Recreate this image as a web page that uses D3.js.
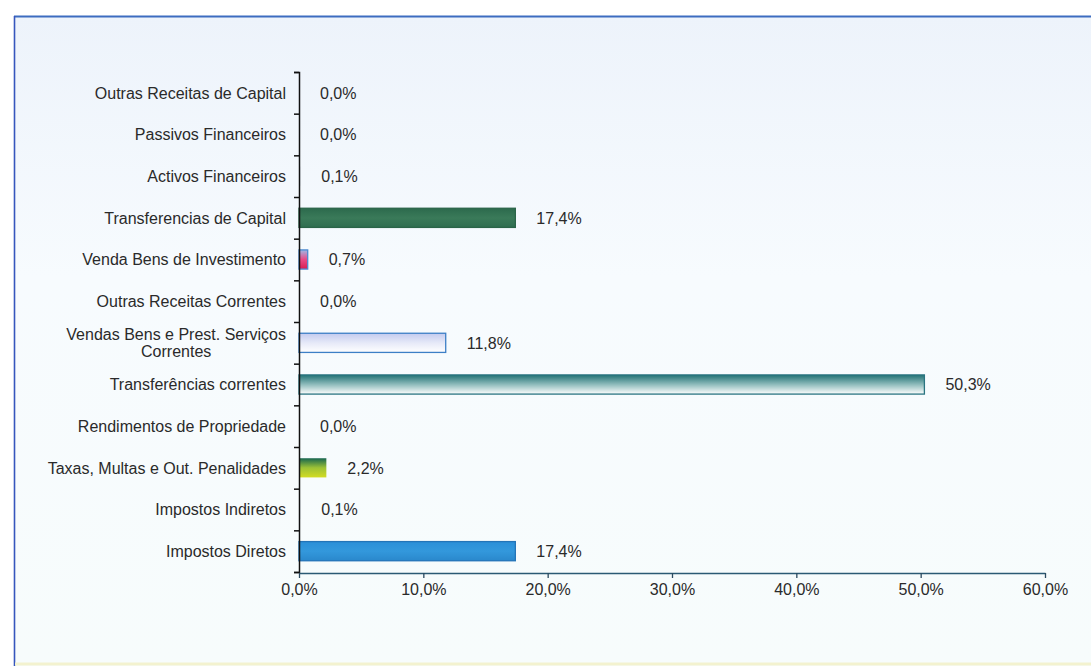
<!DOCTYPE html>
<html lang="pt">
<head>
<meta charset="utf-8">
<title>Estrutura da Receita</title>
<script src="https://cdn.jsdelivr.net/npm/d3@7/dist/d3.min.js"></script>
<style>
  html, body { margin: 0; padding: 0; background: #ffffff; }
  svg { display: block; }
  text { font-family: "Liberation Sans", Arial, sans-serif; fill: #2a2a2a; }
</style>
</head>
<body>
<svg id="chart" width="1091" height="666"></svg>
<script>
// Categorias de receita, de cima para baixo
const categories = [
  "Outras Receitas de Capital",
  "Passivos Financeiros",
  "Activos Financeiros",
  "Transferencias de Capital",
  "Venda Bens de Investimento",
  "Outras Receitas Correntes",
  "Vendas Bens e Prest. Serviços Correntes",
  "Transferências correntes",
  "Rendimentos de Propriedade",
  "Taxas, Multas e Out. Penalidades",
  "Impostos Indiretos",
  "Impostos Diretos"
];

// Peso de cada receita no total (%)
const values = [0.0, 0.0, 0.1, 17.4, 0.7, 0.0, 11.8, 50.3, 0.0, 2.2, 0.1, 17.4];

// Marcas do eixo horizontal (%)
const xTicks = [0, 10, 20, 30, 40, 50, 60];

// Estilo de cada barra: gradiente vertical (topo -> base) e contorno
const barStyles = [
  { stops: ["#5b7fb8", "#5b7fb8"], stroke: "none" },
  { stops: ["#5b7fb8", "#5b7fb8"], stroke: "none" },
  { stops: ["#cfd6e6", "#cfd6e6"], stroke: "none" },
  { stops: ["#2c6a4d", "#3a7a59", "#2f6e50"], stroke: "#2a6448" },
  { stops: ["#9fb8e6", "#e84a86", "#d81e52"], stroke: "#4d8ad0" },
  { stops: ["#111111", "#111111"], stroke: "none" },
  { stops: ["#c3cbef", "#e6e9f8", "#ffffff"], stroke: "#3c7fc6" },
  { stops: ["#227275", "#8fbcbc", "#ffffff"], stroke: "#2a7480" },
  { stops: ["#5b7fb8", "#5b7fb8"], stroke: "none" },
  { stops: ["#17664f", "#9dc236", "#d3dc22"], stroke: "none" },
  { stops: ["#cfd6e6", "#cfd6e6"], stroke: "none" },
  { stops: ["#2a8fd8", "#3398dc", "#2a88cc"], stroke: "#2374b8" }
];

const fmt = v => v.toFixed(1).replace(".", ",") + "%";

const svg = d3.select("#chart");
const W = 1091, H = 666;

// Área do gráfico
const plot = { left: 299, right: 1045, top: 72, bottom: 572 };

const defs = svg.append("defs");

// Fundo do quadro: azul muito claro a esbater para branco
const bg = defs.append("linearGradient")
  .attr("id", "bgGrad").attr("x1", 0).attr("y1", 0).attr("x2", 0).attr("y2", 1);
bg.append("stop").attr("offset", 0).attr("stop-color", "#edf3fb");
bg.append("stop").attr("offset", 0.4).attr("stop-color", "#f7fbfe");
bg.append("stop").attr("offset", 1).attr("stop-color", "#f7fcfc");

svg.append("rect")
  .attr("x", 14).attr("y", 16).attr("width", W - 14).attr("height", H - 16)
  .attr("fill", "url(#bgGrad)");

// Contorno do quadro (topo e lado esquerdo)
svg.append("line")
  .attr("x1", 14).attr("x2", W).attr("y1", 16.5).attr("y2", 16.5)
  .attr("stroke", "#3d6cc0").attr("stroke-width", 2);
svg.append("line")
  .attr("x1", 14.5).attr("x2", 14.5).attr("y1", 16).attr("y2", H)
  .attr("stroke", "#3656bd").attr("stroke-width", 1.6);
svg.append("line")
  .attr("x1", 15).attr("x2", W).attr("y1", H - 2).attr("y2", H - 2)
  .attr("stroke", "#f3f2cf").attr("stroke-width", 3);

// Escalas
const x = d3.scaleLinear().domain([0, 60]).range([plot.left, plot.right]);
const y = d3.scaleBand().domain(categories)
  .range([plot.top, plot.bottom]).paddingInner(0.54).paddingOuter(0.27);
const yEdge = d3.scaleLinear().domain([0, categories.length])
  .range([plot.top, plot.bottom]);

// Gradientes das barras
barStyles.forEach((s, i) => {
  const g = defs.append("linearGradient")
    .attr("id", "bar" + i).attr("x1", 0).attr("y1", 0).attr("x2", 0).attr("y2", 1);
  s.stops.forEach((c, k) => {
    g.append("stop").attr("offset", k / (s.stops.length - 1)).attr("stop-color", c);
  });
});

// Barras
svg.append("g").selectAll("rect")
  .data(categories)
  .join("rect")
  .attr("x", x(0))
  .attr("y", d => y(d))
  .attr("width", (d, i) => x(values[i]) - x(0))
  .attr("height", y.bandwidth())
  .attr("fill", (d, i) => "url(#bar" + i + ")")
  .attr("stroke", (d, i) => barStyles[i].stroke)
  .attr("stroke-width", 1.3);

// Rótulos de valor
svg.append("g").selectAll("text")
  .data(categories)
  .join("text")
  .attr("x", (d, i) => x(values[i]) + 21)
  .attr("y", d => y(d) + y.bandwidth() / 2)
  .attr("dy", "0.36em")
  .attr("font-size", 16)
  .text((d, i) => fmt(values[i]));

// Eixo vertical: linha e marcas nos limites das categorias
const yAxisG = svg.append("g").attr("transform", `translate(${plot.left},0)`)
  .call(d3.axisLeft(yEdge)
    .tickValues(d3.range(categories.length + 1))
    .tickSize(5).tickSizeOuter(5).tickFormat(""));
yAxisG.selectAll("path, line").attr("stroke", "#111").attr("stroke-width", 1.5);

// Nomes das categorias
const labelX = plot.left - 13;
const labels = svg.append("g").attr("font-size", 16);
categories.forEach(c => {
  const cy = y(c) + y.bandwidth() / 2;
  const split = c.indexOf(" Correntes");
  if (c.startsWith("Vendas Bens") && split > 0) {
    // Rótulo longo em duas linhas, centradas na linha mais comprida
    const l1 = c.slice(0, split), l2 = c.slice(split + 1);
    const t = labels.append("text").attr("text-anchor", "middle");
    t.append("tspan").attr("y", cy - 8.5).attr("dy", "0.36em").text(l1);
    t.append("tspan").attr("y", cy + 8.5).attr("dy", "0.36em").text(l2);
    const probe = labels.append("text").text(l1);
    const w = probe.node().getComputedTextLength();
    probe.remove();
    t.selectAll("tspan").attr("x", labelX - w / 2);
  } else {
    labels.append("text")
      .attr("x", labelX).attr("y", cy).attr("dy", "0.36em")
      .attr("text-anchor", "end").text(c);
  }
});

// Eixo horizontal
const xAxisG = svg.append("g").attr("transform", `translate(0,${plot.bottom + 1})`)
  .call(d3.axisBottom(x).tickValues(xTicks).tickFormat(fmt)
    .tickSize(5).tickSizeOuter(0).tickPadding(6));
xAxisG.select(".domain").attr("stroke", "#2b5a74").attr("stroke-width", 1.6);
xAxisG.selectAll(".tick line").attr("stroke", "#2b4a60").attr("stroke-width", 1.3);
xAxisG.selectAll(".tick text")
  .attr("font-size", 16).attr("fill", "#2a2a2a")
  .attr("font-family", "'Liberation Sans', Arial, sans-serif");
</script>
</body>
</html>
